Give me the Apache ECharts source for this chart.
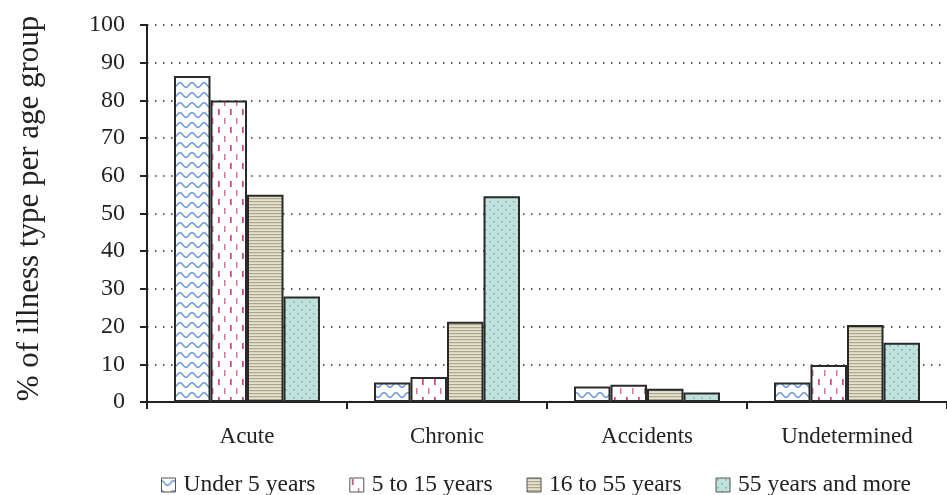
<!DOCTYPE html>
<html>
<head>
<meta charset="utf-8">
<script src="https://cdn.jsdelivr.net/npm/echarts@6/dist/echarts.min.js"></script>
<style>
  html, body { margin: 0; padding: 0; background: #fff; }
  #chart { width: 947px; height: 495px; }
</style>
</head>
<body>
<div id="chart"></div>
<script>
// illness type categories
const categories = ['Acute', 'Chronic', 'Accidents', 'Undetermined'];
const seriesNames = ['Under 5 years', '5 to 15 years', '16 to 55 years', '55 years and more'];

// % per age group
const under5 = [86.5, 5.2, 4.1, 5.2];
const age5to15 = [80, 6.6, 4.6, 9.8];
const age16to55 = [55, 21.3, 3.5, 20.4];
const age55plus = [28, 54.6, 2.5, 15.7];

const yTicks = [0, 10, 20, 30, 40, 50, 60, 70, 80, 90, 100];

const FONT = '"Liberation Serif", "DejaVu Serif", serif';

// --- pattern fills ---
function makeCanvas(w, h) {
  const c = document.createElement('canvas');
  c.width = w; c.height = h;
  return c;
}

function wavePattern() {
  const c = makeCanvas(12, 10);
  const ctx = c.getContext('2d');
  ctx.fillStyle = '#ffffff';
  ctx.fillRect(0, 0, 12, 10);
  ctx.strokeStyle = '#6d9ddb';
  ctx.lineWidth = 1.5;
  ctx.beginPath();
  for (let x = 0; x <= 12; x += 0.5) {
    const y = 5 - 2.3 * Math.cos(x / 12 * Math.PI * 2);
    if (x === 0) ctx.moveTo(x, y); else ctx.lineTo(x, y);
  }
  ctx.stroke();
  return c;
}

function dashPattern() {
  const c = makeCanvas(12, 18);
  const ctx = c.getContext('2d');
  ctx.fillStyle = '#ffffff';
  ctx.fillRect(0, 0, 12, 18);
  ctx.fillStyle = '#cc4580';
  ctx.fillRect(2, 1, 1.7, 6);
  ctx.fillStyle = '#d9739f';
  ctx.fillRect(8, 10, 1.5, 6);
  return c;
}

function stripePattern() {
  const c = makeCanvas(4, 3);
  const ctx = c.getContext('2d');
  ctx.fillStyle = '#e6e2cc';
  ctx.fillRect(0, 0, 4, 3);
  ctx.fillStyle = '#a9a68f';
  ctx.fillRect(0, 0, 4, 1.2);
  return c;
}

function dotPattern() {
  const c = makeCanvas(8, 8);
  const ctx = c.getContext('2d');
  ctx.fillStyle = '#bfe3dc';
  ctx.fillRect(0, 0, 8, 8);
  ctx.fillStyle = '#8fa8a4';
  ctx.fillRect(1, 1, 1.5, 1.5);
  ctx.fillRect(5, 5, 1.5, 1.5);
  return c;
}

const fills = [wavePattern(), dashPattern(), stripePattern(), dotPattern()];
const dataSets = [under5, age5to15, age16to55, age55plus];

const chart = echarts.init(document.getElementById('chart'), null, { renderer: 'canvas' });

const option = {
  animation: false,
  backgroundColor: '#ffffff',
  textStyle: { fontFamily: FONT },
  grid: { left: 147, right: -11, top: 25, bottom: 93 },
  legend: {
    top: 468,
    left: 156,
    itemWidth: 14,
    itemHeight: 14,
    itemGap: 34,
    icon: 'rect',
    textStyle: { fontFamily: FONT, fontSize: 23.5, color: '#222', padding: [0, 0, 0, 3] },
    itemStyle: { borderColor: '#555', borderWidth: 1 },
    data: seriesNames
  },
  xAxis: {
    type: 'category',
    data: categories,
    axisLine: { lineStyle: { color: '#222', width: 2 } },
    axisTick: { show: true, length: 7, lineStyle: { color: '#222', width: 2 } },
    axisLabel: { fontFamily: FONT, fontSize: 23, color: '#222', margin: 23 },
    splitLine: { show: false }
  },
  yAxis: {
    type: 'value',
    min: yTicks[0],
    max: yTicks[yTicks.length - 1],
    interval: 10,
    name: '% of illness type per age group',
    nameLocation: 'middle',
    nameGap: 102,
    nameTextStyle: { fontFamily: FONT, fontSize: 31, color: '#222', padding: [0, 0, 0, 10] },
    axisLine: { show: true, lineStyle: { color: '#222', width: 2 } },
    axisTick: { show: true, length: 7, lineStyle: { color: '#222', width: 2 } },
    axisLabel: { fontFamily: FONT, fontSize: 24, color: '#222', margin: 22 },
    splitLine: { show: true, lineStyle: { color: '#333', type: [1.5, 6.5], width: 1.5 } }
  },
  series: seriesNames.map((name, i) => ({
    name: name,
    type: 'bar',
    barGap: '0%',
    barCategoryGap: '27%',
    itemStyle: {
      color: { image: fills[i], repeat: 'repeat' },
      borderColor: '#2a2a2a',
      borderWidth: 2
    },
    data: dataSets[i]
  }))
};

chart.setOption(option);
</script>
</body>
</html>
